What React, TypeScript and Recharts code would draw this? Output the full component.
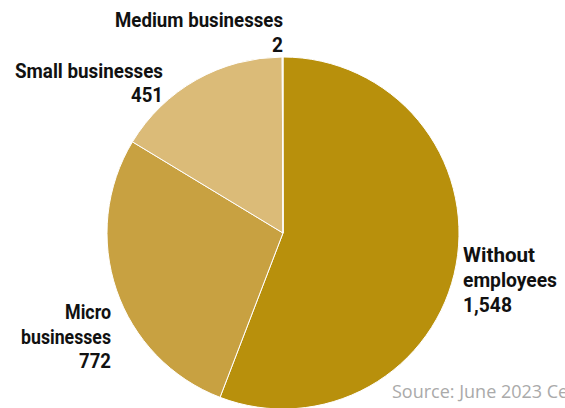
import React from 'react';
import { PieChart, Pie, Cell } from 'recharts';

const categories = ['Without employees', 'Micro businesses', 'Small businesses', 'Medium businesses'];
const counts = [1548, 772, 451, 2];
const colors = ['#B8900C', '#C8A141', '#DBBB78', '#EEDDB5'];

const chartData = categories.map((name, i) => ({ name, value: counts[i] }));

// label lines: text, anchor x, baseline y, measured width, anchor
const labelLines: [string, number, number, number, 'start' | 'end'][] = [
  ['Medium businesses', 283, 27, 168, 'end'],
  ['2', 283, 52, 11, 'end'],
  ['Small businesses', 163, 78, 148, 'end'],
  ['451', 163, 102, 32, 'end'],
  ['Without', 463, 262, 72, 'start'],
  ['employees', 463, 287, 94, 'start'],
  ['1,548', 463, 312, 49, 'start'],
  ['Micro', 111, 319, 46, 'end'],
  ['businesses', 111, 344, 90, 'end'],
  ['772', 111, 368, 32, 'end'],
];

export default function App() {
  return (
    <div style={{ position: 'absolute', left: 0, top: 0, width: 565, height: 408, overflow: 'hidden', background: '#fff' }}>
      <PieChart width={565} height={408} margin={{ top: 0, right: 0, bottom: 0, left: 0 }}>
        <Pie
          data={chartData}
          dataKey="value"
          nameKey="name"
          cx={283}
          cy={233}
          outerRadius={176}
          startAngle={90}
          endAngle={-270}
          stroke="#fff"
          strokeWidth={1}
          isAnimationActive={false}
        >
          {chartData.map((d, i) => (
            <Cell key={d.name} fill={colors[i]} />
          ))}
        </Pie>
      </PieChart>
      <svg width={565} height={408} style={{ position: 'absolute', left: 0, top: 0 }}>
        <g fontFamily="Roboto, sans-serif" fontWeight="bold" fontSize={21} fill="#111">
          {labelLines.map(([t, x, y, w, anchor]) => (
            <text
              key={t}
              x={anchor === 'end' ? x - w : x}
              y={y}
              textLength={w}
              lengthAdjust="spacingAndGlyphs"
            >
              {t}
            </text>
          ))}
        </g>
        <text x={392} y={398} fontFamily='"Open Sans", sans-serif' fontSize={18} fill="#aaa">Source: June 2023 Census</text>
      </svg>
    </div>
  );
}
